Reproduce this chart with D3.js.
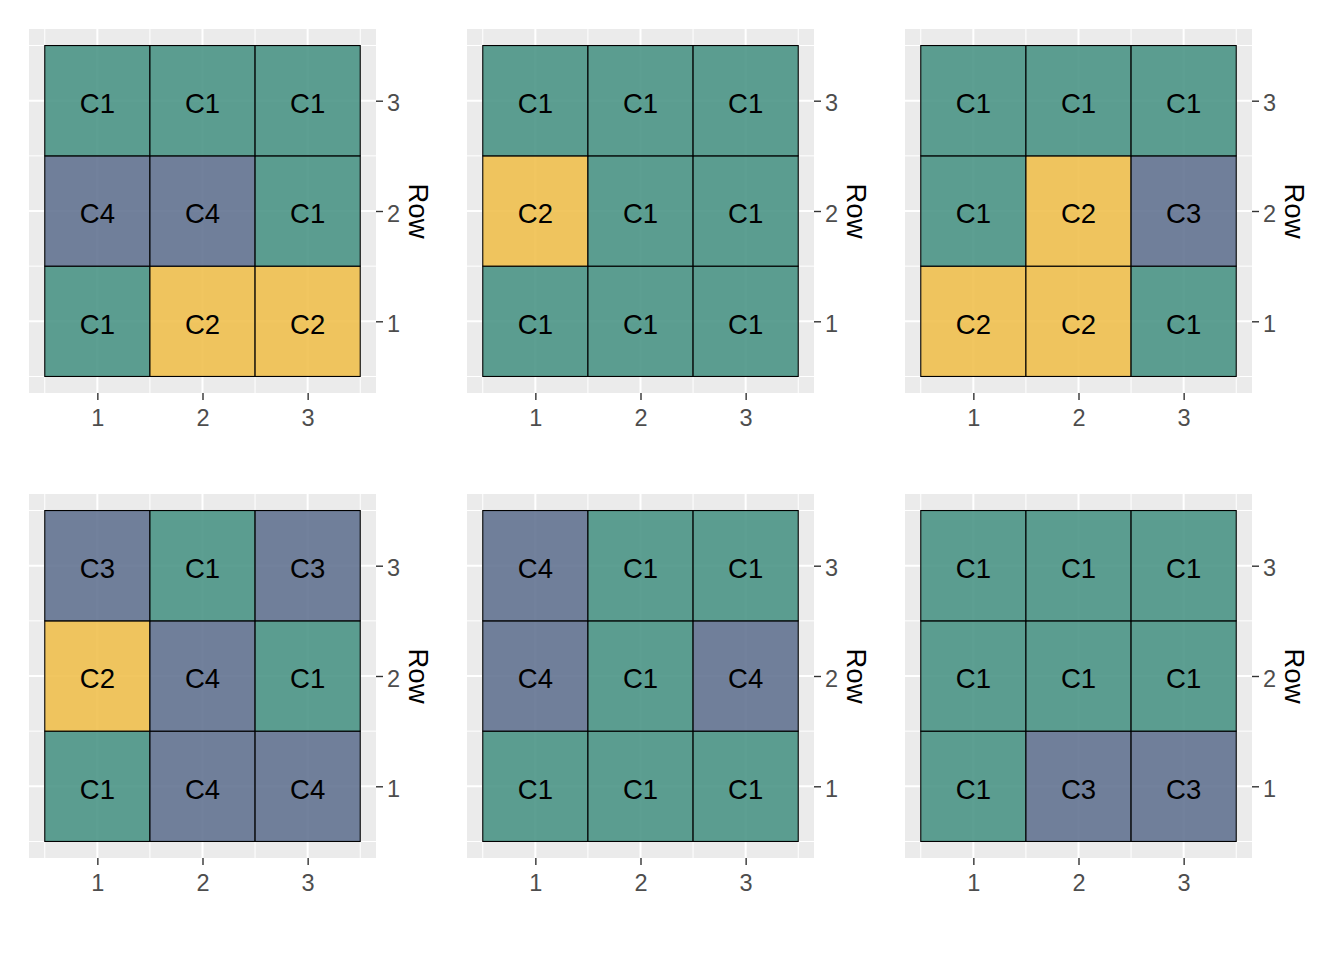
<!DOCTYPE html>
<html>
<head>
<meta charset="utf-8">
<script src="https://cdn.jsdelivr.net/npm/d3@7"></script>
<style>
  html, body { margin: 0; padding: 0; background: #ffffff; }
  svg { display: block; font-family: "Liberation Sans", Arial, sans-serif; }
</style>
</head>
<body>
<svg id="chart" width="1344" height="960"></svg>
<script>
// ---- data ----
const colValues = [1, 2, 3];
const rowValues = [1, 2, 3];
const tickLabels = ["1", "2", "3"];
const clusterNames = ["C1", "C2", "C3", "C4"];
const clusterColors = ["#4B9586", "#EFC04F", "#637391", "#637391"];
// each panel: cluster per cell, listed row 1 (cols 1..3), row 2, row 3
const panel1 = ["C1", "C2", "C2", "C4", "C4", "C1", "C1", "C1", "C1"];
const panel2 = ["C1", "C1", "C1", "C2", "C1", "C1", "C1", "C1", "C1"];
const panel3 = ["C2", "C2", "C1", "C1", "C2", "C3", "C1", "C1", "C1"];
const panel4 = ["C1", "C4", "C4", "C2", "C4", "C1", "C3", "C1", "C3"];
const panel5 = ["C1", "C1", "C1", "C4", "C1", "C4", "C4", "C1", "C1"];
const panel6 = ["C1", "C3", "C3", "C1", "C1", "C1", "C1", "C1", "C1"];
const panels = [panel1, panel2, panel3, panel4, panel5, panel6];
const yTitle = "Row";

// ---- layout ----
const svg = d3.select("#chart");
const panelW = 347, panelH = 364;
const panelX = [29, 467, 905];
const panelY = [29, 494];

const color = d3.scaleOrdinal().domain(clusterNames).range(clusterColors);
const x = d3.scaleLinear().domain([0.35, 3.65]).range([0, panelW]);
const y = d3.scaleLinear().domain([0.35, 3.65]).range([panelH, 0]);
const minorBreaks = [0.5, 1.5, 2.5, 3.5];

panels.forEach((cells, i) => {
  const g = svg.append("g")
    .attr("transform", `translate(${panelX[i % 3]},${panelY[Math.floor(i / 3)]})`);

  g.append("rect").attr("width", panelW).attr("height", panelH).attr("fill", "#EBEBEB");

  // minor grid
  g.selectAll(".vminor").data(minorBreaks).join("line")
    .attr("x1", d => x(d)).attr("x2", d => x(d)).attr("y1", 0).attr("y2", panelH)
    .attr("stroke", "#fff").attr("stroke-width", 1);
  g.selectAll(".hminor").data(minorBreaks).join("line")
    .attr("y1", d => y(d)).attr("y2", d => y(d)).attr("x1", 0).attr("x2", panelW)
    .attr("stroke", "#fff").attr("stroke-width", 1);
  // major grid
  g.selectAll(".vmajor").data(colValues).join("line")
    .attr("x1", d => x(d)).attr("x2", d => x(d)).attr("y1", 0).attr("y2", panelH)
    .attr("stroke", "#fff").attr("stroke-width", 2);
  g.selectAll(".hmajor").data(rowValues).join("line")
    .attr("y1", d => y(d)).attr("y2", d => y(d)).attr("x1", 0).attr("x2", panelW)
    .attr("stroke", "#fff").attr("stroke-width", 2);

  const data = cells.map((c, k) => ({ col: colValues[k % 3], row: rowValues[Math.floor(k / 3)], c }));

  g.selectAll(".tile").data(data).join("rect")
    .attr("x", d => x(d.col - 0.5))
    .attr("y", d => y(d.row + 0.5))
    .attr("width", d => x(d.col + 0.5) - x(d.col - 0.5))
    .attr("height", d => y(d.row - 0.5) - y(d.row + 0.5))
    .attr("fill", d => color(d.c))
    .attr("fill-opacity", 0.9)
    .attr("stroke", "#000")
    .attr("stroke-width", 1.1);

  g.selectAll(".lbl").data(data).join("text")
    .attr("x", d => x(d.col))
    .attr("y", d => y(d.row))
    .attr("dy", "0.45em")
    .attr("text-anchor", "middle")
    .attr("font-size", 27.5)
    .attr("fill", "#000")
    .text(d => d.c);

  // x axis
  const xa = g.append("g").attr("transform", `translate(0,${panelH})`)
    .call(d3.axisBottom(x).tickValues(colValues).tickFormat((d, k) => tickLabels[k]).tickSize(7).tickPadding(9.8));
  xa.select(".domain").remove();
  xa.selectAll(".tick line").attr("stroke", "#333").attr("stroke-width", 1.4);
  xa.selectAll(".tick text").attr("fill", "#4D4D4D").attr("font-size", 23.5)
    .attr("font-family", "Liberation Sans, Arial, sans-serif");

  // y axis (right)
  const ya = g.append("g").attr("transform", `translate(${panelW},0)`)
    .call(d3.axisRight(y).tickValues(rowValues).tickFormat((d, k) => tickLabels[k]).tickSize(7).tickPadding(4));
  ya.select(".domain").remove();
  ya.selectAll(".tick line").attr("stroke", "#333").attr("stroke-width", 1.4);
  ya.selectAll(".tick text").attr("fill", "#4D4D4D").attr("font-size", 23.5).attr("dy", "0.43em")
    .attr("font-family", "Liberation Sans, Arial, sans-serif");

  g.append("text")
    .attr("transform", `translate(${panelW + 33},${panelH / 2}) rotate(90)`)
    .attr("text-anchor", "middle")
    .attr("font-size", 27.5)
    .attr("fill", "#000")
    .text(yTitle);
});
</script>
</body>
</html>
